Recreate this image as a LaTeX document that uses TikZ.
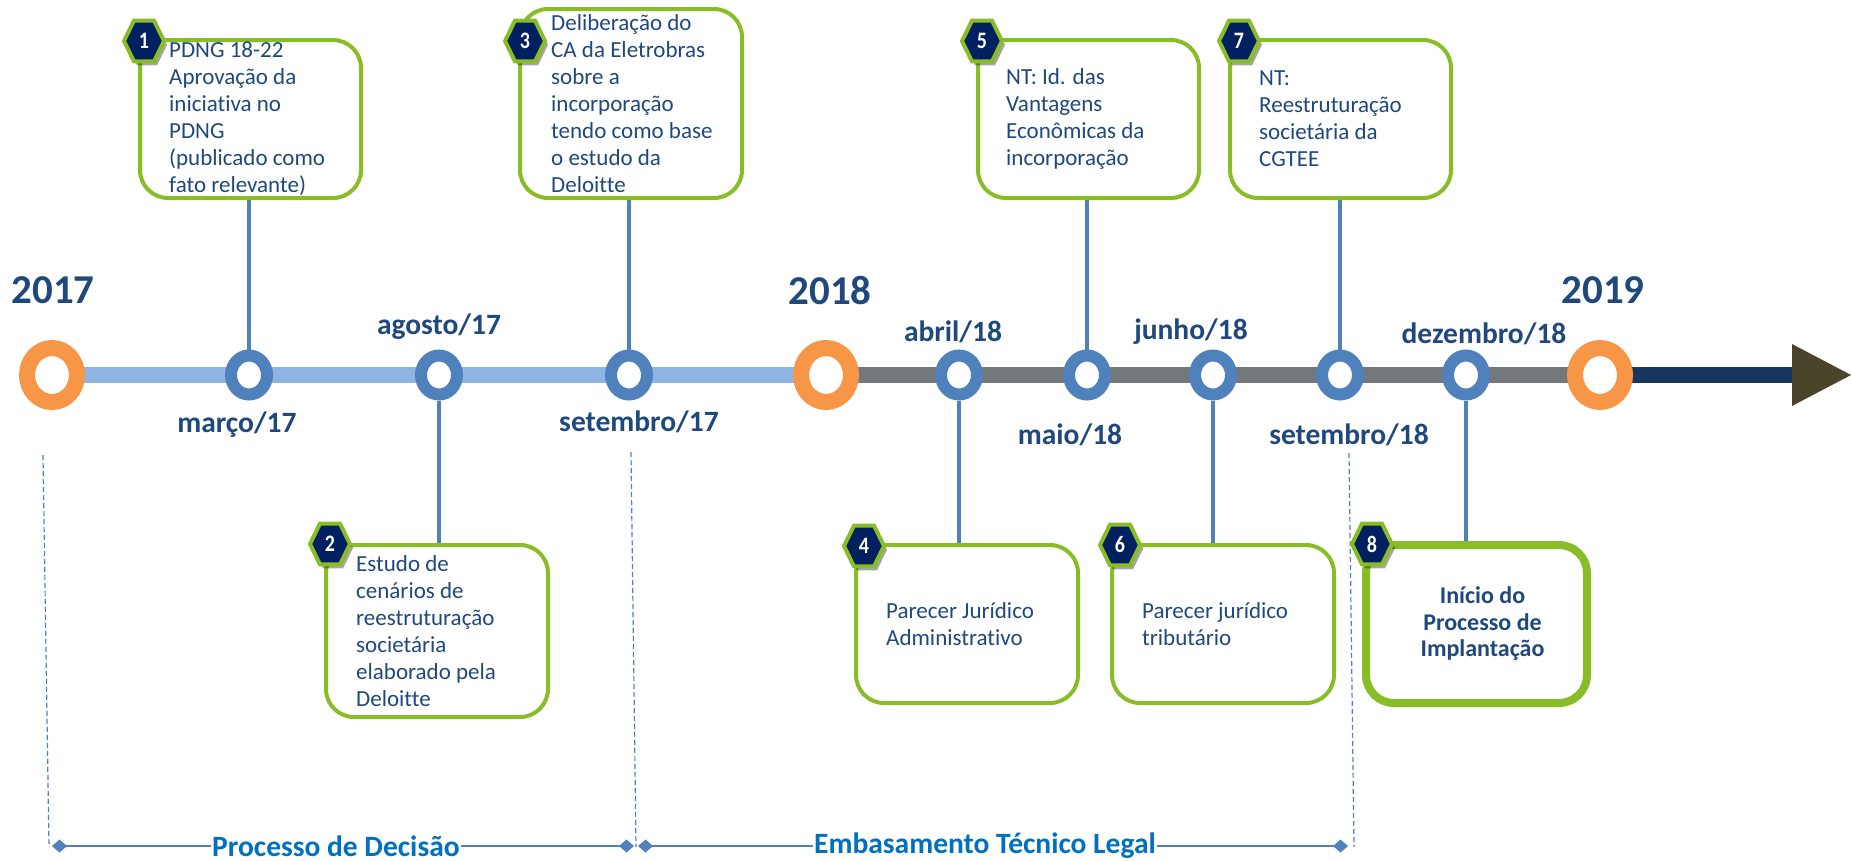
\documentclass[tikz,border=0pt]{standalone}
\usepackage{fontspec}
\setmainfont{Carlito}[Ligatures=CommonOff]
\usetikzlibrary{shapes.geometric,arrows.meta,positioning,shadows}

\definecolor{evgreen}{RGB}{137,189,40}
\definecolor{evblue}{RGB}{79,129,189}
\definecolor{barblue}{RGB}{142,180,227}
\definecolor{bargray}{RGB}{117,120,123}
\definecolor{barnavy}{RGB}{23,55,94}
\definecolor{tipolive}{RGB}{74,69,42}
\definecolor{evorange}{RGB}{247,150,70}
\definecolor{txtblue}{RGB}{31,73,125}
\definecolor{badgenavy}{RGB}{0,32,96}
\definecolor{phaseblue}{RGB}{0,112,192}

\tikzset{
  evbox/.style={draw=evgreen, line width=4pt, rounded corners=28pt, fill=white, inner sep=0pt},
  evtext/.style={align=left, text=txtblue, font=\fontsize{23}{27}\selectfont, inner sep=0pt},
  badge/.style={regular polygon, regular polygon sides=6, minimum size=40pt, inner sep=0pt,
    fill=badgenavy, draw=evgreen, line width=4pt, text=white, font=\fontsize{20}{20}\selectfont\bfseries,
    drop shadow={shadow xshift=3pt, shadow yshift=-4pt, opacity=0.35, fill=black}},
  yearring/.style={ellipse, draw=evorange, line width=16pt, fill=white, minimum width=50pt, minimum height=54pt, inner sep=0pt},
  monthring/.style={ellipse, draw=evblue, line width=12pt, fill=white, minimum width=36pt, minimum height=39pt, inner sep=0pt},
  conn/.style={draw=evblue, line width=3.5pt},
  mlabel/.style={text=txtblue, font=\fontsize{29.5}{31}\selectfont\bfseries, inner sep=0pt},
  yearlabel/.style={text=txtblue, font=\fontsize{41}{41}\selectfont\bfseries, inner sep=0pt},
  phaseline/.style={draw=evblue, line width=2.5pt, {Diamond[length=15pt,width=13pt]}-{Diamond[length=15pt,width=13pt]}},
  phaselabel/.style={text=phaseblue, fill=white, font=\fontsize{29.5}{31}\selectfont\bfseries, inner xsep=1pt, inner ysep=0pt},
  phasesep/.style={draw=evblue, line width=1.2pt, dash pattern=on 5pt off 3pt}
}

\begin{document}
\begin{tikzpicture}[x=1pt,y=-1pt]
  \useasboundingbox (0,0) rectangle (1851,860);

  % eixo do tempo
  \coordinate (p17) at (52,375);
  \coordinate (p18) at (826,375);
  \coordinate (p19) at (1600,375);
  \coordinate (tipbase) at (1792,375);
  \draw[line width=16pt, barblue] (p17) -- (p18);
  \draw[line width=16pt, bargray] (p18) -- (p19);
  \draw[line width=16pt, barnavy] (p19) -- (tipbase);
  \fill[tipolive] (1792,344) -- (1851,375) -- (1792,406) -- cycle;

  % separadores das fases
  \draw[phasesep] (43,455) -- (49,847);
  \draw[phasesep] (631,452) -- (636,847);
  \draw[phasesep] (1349,453) -- (1354,847);

  % caixas
  \node[evbox, minimum width=221pt, minimum height=158pt] (box1) at (250.5,119) {};
  \node[evbox, minimum width=222pt, minimum height=189pt] (box3) at (631,103.5) {};
  \node[evbox, minimum width=221pt, minimum height=158pt] (box5) at (1088.5,119) {};
  \node[evbox, minimum width=221pt, minimum height=158pt] (box7) at (1340.5,119) {};
  \node[evbox, minimum width=222pt, minimum height=172pt] (box2) at (437,631) {};
  \node[evbox, minimum width=222pt, minimum height=158pt] (box4) at (967,624) {};
  \node[evbox, minimum width=222pt, minimum height=158pt] (box6) at (1223,624) {};
  \node[evbox, line width=8pt, minimum width=221pt, minimum height=158pt] (box8) at (1476.5,624) {};

  \node[evtext, right=31pt of box1.west] (txt1) {PDNG 18-22\\Aprovação da\\iniciativa no\\PDNG\\(publicado como\\fato relevante)};
  \node[evtext, right=33pt of box3.west] (txt3) {Deliberação do\\CA da Eletrobras\\sobre a\\incorporação\\tendo como base\\o estudo da\\Deloitte};
  \node[evtext, right=30pt of box5.west] (txt5) {NT: Id. das\\Vantagens\\Econômicas da\\incorporação};
  \node[evtext, right=31pt of box7.west] (txt7) {NT:\\Reestruturação\\societária da\\CGTEE};
  \node[evtext, right=32pt of box2.west] (txt2) {Estudo de\\cenários de\\reestruturação\\societária\\elaborado pela\\Deloitte};
  \node[evtext, right=32pt of box4.west] (txt4) {Parecer Jurídico\\Administrativo};
  \node[evtext, right=32pt of box6.west] (txt6) {Parecer jurídico\\tributário};
  \node[evtext, align=center, font=\fontsize{24}{26.5}\selectfont\bfseries] (txt8) at ([xshift=6pt]box8.center) {Início do\\Processo de\\Implantação};

  % selos numerados
  \foreach \n/\px/\py in {1/144/41, 2/330/544, 3/525/41, 4/864/546, 5/982/41, 6/1120/545, 7/1239/41, 8/1372/544}
  {
    \begin{scope}[shift={(\px,\py)}, yscale=1.18, transform shape]
      \node[badge] (bdg\n) at (0,0) {\n};
    \end{scope}
  }

  % marcos
  \node[yearring] (c17) at (p17) {};
  \node[yearring] (c18) at (p18) {};
  \node[yearring] (c19) at (p19) {};
  \node[monthring] (cmar) at (249,375) {};
  \node[monthring] (cago) at (439,375) {};
  \node[monthring] (cset17) at (629,375) {};
  \node[monthring] (cabr) at (959,375) {};
  \node[monthring] (cmai) at (1087,375) {};
  \node[monthring] (cjun) at (1213,375) {};
  \node[monthring] (cset18) at (1340,375) {};
  \node[monthring] (cdez) at (1466,375) {};

  \draw[conn] (cmar.north) -- (cmar.north |- box1.south);
  \draw[conn] (cset17.north) -- (cset17.north |- box3.south);
  \draw[conn] (cmai.north) -- (cmai.north |- box5.south);
  \draw[conn] (cset18.north) -- (cset18.north |- box7.south);
  \draw[conn] (cago.south) -- (cago.south |- box2.north);
  \draw[conn] (cabr.south) -- (cabr.south |- box4.north);
  \draw[conn] (cjun.south) -- (cjun.south |- box6.north);
  \draw[conn] (cdez.south) -- (cdez.south |- box8.north);

  \node[yearlabel] (l17) at (53,290) {2017};
  \node[yearlabel] (l18) at (830,290) {2018};
  \node[yearlabel] (l19) at (1603,290) {2019};
  \node[mlabel] (lmar) at (237,425) {março/17};
  \node[mlabel] (lago) at (439,327) {agosto/17};
  \node[mlabel] (lset17) at (639,422) {setembro/17};
  \node[mlabel] (labr) at (953,332) {abril/18};
  \node[mlabel] (lmai) at (1070,435) {maio/18};
  \node[mlabel] (ljun) at (1191,332) {junho/18};
  \node[mlabel] (lset18) at (1349,435) {setembro/18};
  \node[mlabel] (ldez) at (1484,334) {dezembro/18};

  % fases
  \coordinate (pd1) at (52,846);
  \coordinate (pd2) at (634,846);
  \coordinate (pe1) at (638,846);
  \coordinate (pe2) at (1348,846);
  \draw[phaseline] (pd1) -- (pd2);
  \draw[phaseline] (pe1) -- (pe2);
  \node[phaselabel] (fase1) at (336,846) {Processo de Decisão};
  \node[phaselabel] (fase2) at (985,846) {Embasamento Técnico Legal};
\end{tikzpicture}
\end{document}
